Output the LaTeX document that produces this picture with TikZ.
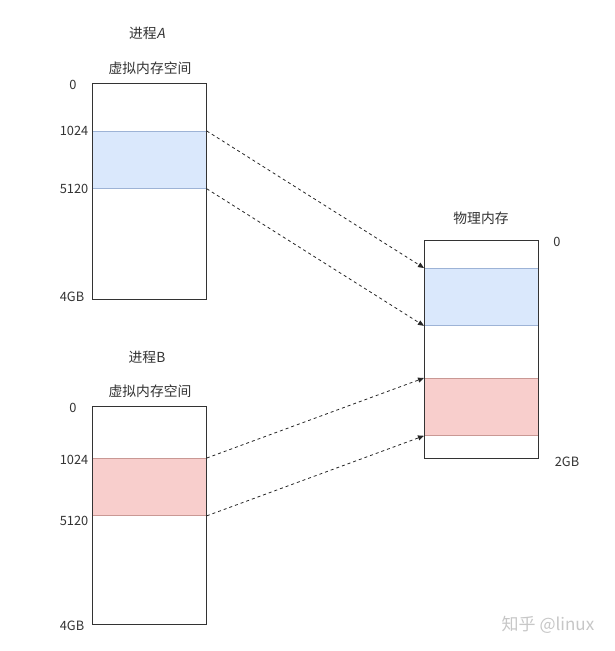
\documentclass[tikz,border=0pt]{standalone}
\usepackage{fontspec}
\setmainfont[AutoFakeSlant=0.2]{Noto Sans CJK SC}
\usetikzlibrary{arrows.meta,positioning}

\definecolor{bluefill}{HTML}{DAE8FC}
\definecolor{blueline}{HTML}{9DB3D6}
\definecolor{redfill}{HTML}{F8CECC}
\definecolor{redline}{HTML}{C99894}

\begin{document}
\begin{tikzpicture}[x=1pt, y=-1pt,
    lbl/.style={font=\fontsize{12.8}{14}\selectfont, text=black!80, inner sep=0pt},
    title/.style={lbl, font=\fontsize{13.8}{15}\selectfont},
    membox/.style={draw=black!80, line width=1pt, minimum width=114pt, anchor=north west, inner sep=0pt},
    blueband/.style={fill=bluefill, draw=blueline, line width=0.8pt, minimum width=114pt, minimum height=57pt, anchor=north west, inner sep=0pt},
    redband/.style={fill=redfill, draw=redline, line width=0.8pt, minimum width=114pt, minimum height=57pt, anchor=north west, inner sep=0pt},
    map/.style={dashed, black!85, line width=0.8pt, -{Triangle[length=6pt,width=5pt]}}
]
\useasboundingbox[fill=white] (0,0) rectangle (615,651);

% Process A
\node[title] (procA) at (147,33) {进程\textit{A}};
\node[title] (vspaceA) at (150,68) {虚拟内存空间};
\node[blueband] (segA) at (92,131) {};
\node[membox, minimum height=216pt] (boxA) at (92,83) {};
\node[lbl] (a0) at (73,85) {0};
\node[lbl] (a1024) at (74,131) {1024};
\node[lbl] (a5120) at (74,189) {5120};
\node[lbl] (a4gb) at (72,297) {4GB};

% Process B
\node[title] (procB) at (147,357) {进程B};
\node[title] (vspaceB) at (150,391) {虚拟内存空间};
\node[redband] (segB) at (92,458) {};
\node[membox, minimum height=218pt] (boxB) at (92,406) {};
\node[lbl] (b0) at (73,408) {0};
\node[lbl] (b1024) at (74,460) {1024};
\node[lbl] (b5120) at (74,521) {5120};
\node[lbl] (b4gb) at (72,626) {4GB};

% Physical memory
\node[title] (physmem) at (481,218) {物理内存};
\node[blueband] (physA) at (424,268) {};
\node[redband] (physB) at (424,378) {};
\node[membox, minimum height=218pt] (boxP) at (424,240) {};
\node[lbl] (p0) at (557,242) {0};
\node[lbl] (p2gb) at (567,462) {2GB};

% Mappings
\draw[map] (segA.north east) -- (physA.north west);
\draw[map] (segA.south east) -- (physA.south west);
\draw[map] (segB.north east) -- (physB.north west);
\draw[map] (segB.south east) -- (physB.south west);

% Watermark
\node[lbl, text=black!22, font=\fontsize{17}{19}\selectfont] (mark) at (548,625) {知乎 @linux};

\end{tikzpicture}
\end{document}
